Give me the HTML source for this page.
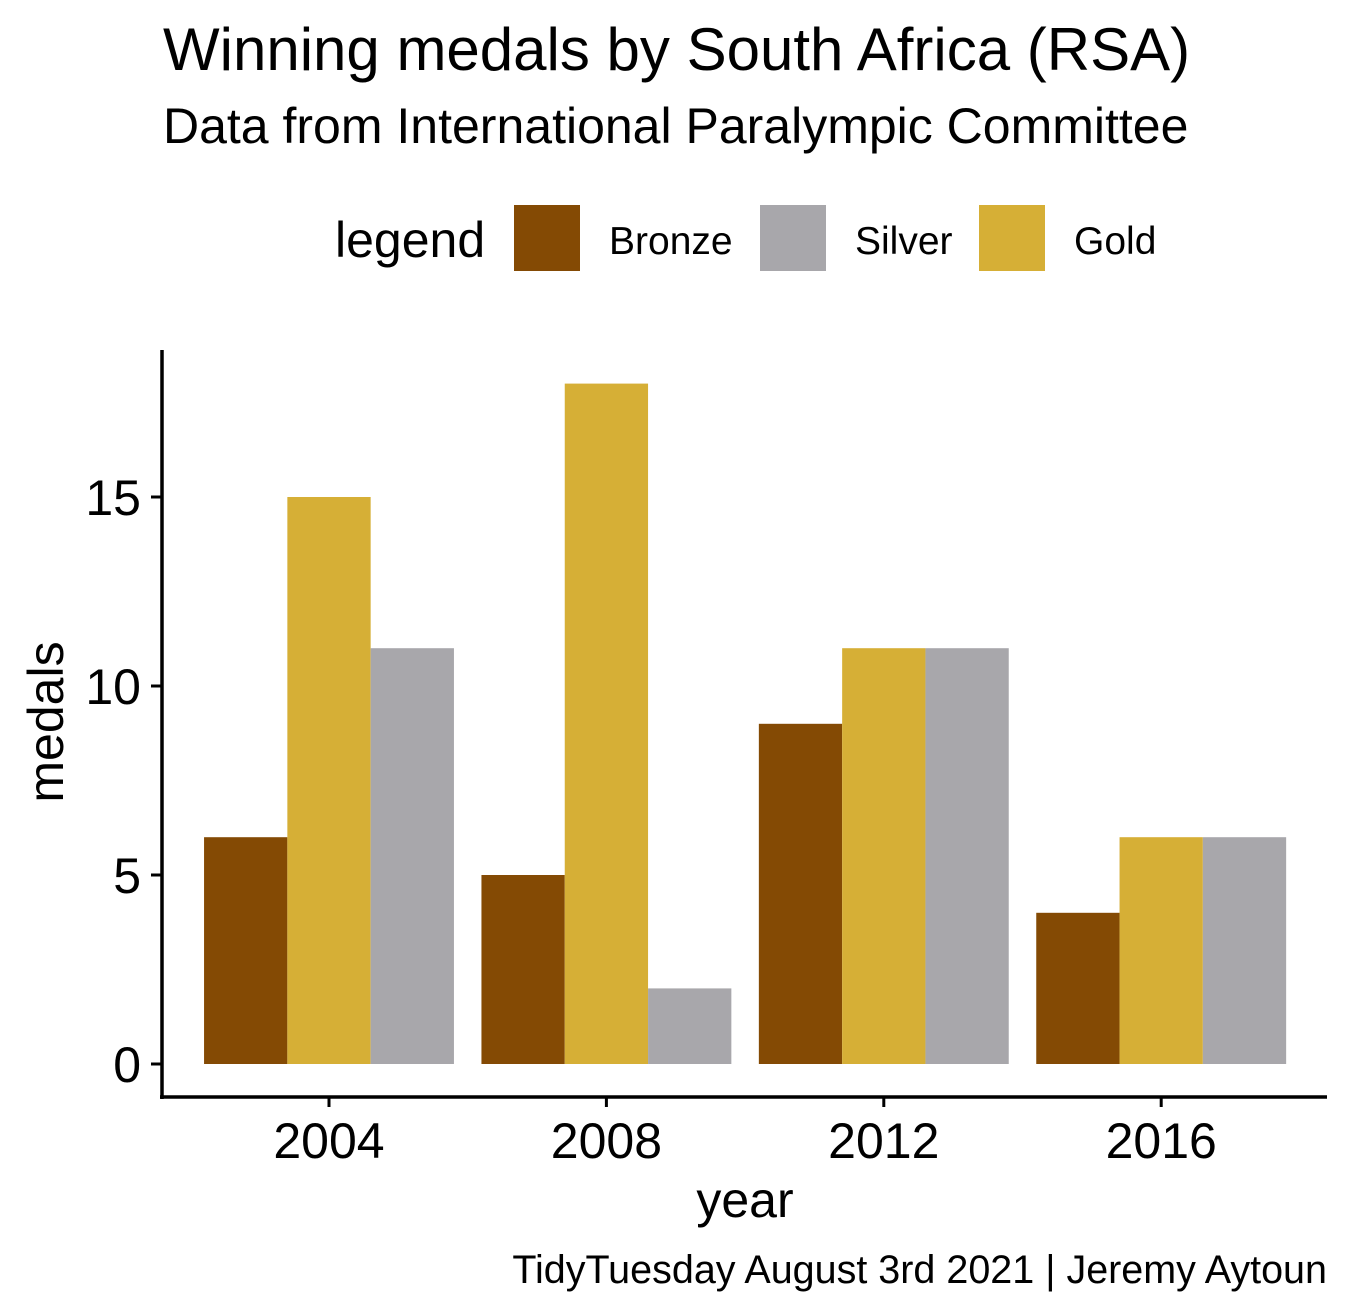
<!DOCTYPE html>
<html><head><meta charset="utf-8"><style>
html,body{margin:0;padding:0;background:#fff;}
svg{display:block;font-family:"Liberation Sans",Arial,sans-serif;}
</style></head><body>
<svg id="chart" width="1353" height="1315" viewBox="0 0 1353 1315" xmlns="http://www.w3.org/2000/svg">
<text x="163" y="70" font-size="60" fill="#000">Winning medals by South Africa (RSA)</text>
<text x="163" y="143" font-size="50" fill="#000">Data from International Paralympic Committee</text>
<g>
<text x="335" y="257" font-size="50">legend</text>
<rect x="514" y="205" width="66" height="66" fill="#844A04"/>
<text x="609" y="254" font-size="39">Bronze</text>
<rect x="760" y="205" width="66" height="66" fill="#A8A7AB"/>
<text x="855" y="254" font-size="39">Silver</text>
<rect x="979" y="205" width="66" height="66" fill="#D6AF36"/>
<text x="1074" y="254" font-size="39">Gold</text>
</g>
<g id="bars"></g>
<g id="axes"></g>
<text x="745" y="1217" font-size="50" text-anchor="middle">year</text>
<text transform="translate(63,722) rotate(-90)" font-size="50" text-anchor="middle">medals</text>
<text x="1327" y="1283" font-size="39.5" text-anchor="end">TidyTuesday August 3rd 2021 | Jeremy Aytoun</text>
</svg>
<script>
const years = ["2004","2008","2012","2016"];
const bronze = [6,5,9,4];
const gold = [15,18,11,6];
const silver = [11,2,11,6];
const yTicks = [0,5,10,15];

const NS="http://www.w3.org/2000/svg";
const y0=1064, perUnit=37.8;
const yScale=v=>y0-v*perUnit;
const xCenter=i=>329+i*277.4;
const barW=83.3;
const series=[{name:"bronze",vals:bronze,color:"#844A04"},{name:"gold",vals:gold,color:"#D6AF36"},{name:"silver",vals:silver,color:"#A8A7AB"}];
const bars=document.getElementById('bars');
const axes=document.getElementById('axes');
function mk(t,a){const e=document.createElementNS(NS,t);for(const k in a)e.setAttribute(k,a[k]);return e;}
years.forEach((yr,i)=>{
  series.forEach((s,j)=>{
    const v=s.vals[i];
    const x=xCenter(i)-1.5*barW+j*barW;
    const r=mk('rect',{x:x,y:yScale(v),width:barW,height:v*perUnit,fill:s.color});
    
    
    bars.appendChild(r);
  });
  const t=mk('line',{x1:xCenter(i),x2:xCenter(i),y1:1097,y2:1107,stroke:'#000','stroke-width':3});
  
  
  axes.appendChild(t);
  const l=mk('text',{x:xCenter(i),y:1158,'font-size':50,'text-anchor':'middle'});
  l.textContent=yr;
  
  
  axes.appendChild(l);
});
yTicks.forEach(v=>{
  const t=mk('line',{x1:151,x2:162,y1:yScale(v),y2:yScale(v),stroke:'#000','stroke-width':3});
  
  
  axes.appendChild(t);
  const l=mk('text',{x:141,y:yScale(v)+18,'font-size':50,'text-anchor':'end'});
  l.textContent=v;
  
  
  axes.appendChild(l);
});
const ya=mk('line',{x1:162,x2:162,y1:350,y2:1099,stroke:'#000','stroke-width':3.5});


axes.appendChild(ya);
const xa=mk('line',{x1:160,x2:1327,y1:1097,y2:1097,stroke:'#000','stroke-width':3.5});


axes.appendChild(xa);
</script>
</body></html>
